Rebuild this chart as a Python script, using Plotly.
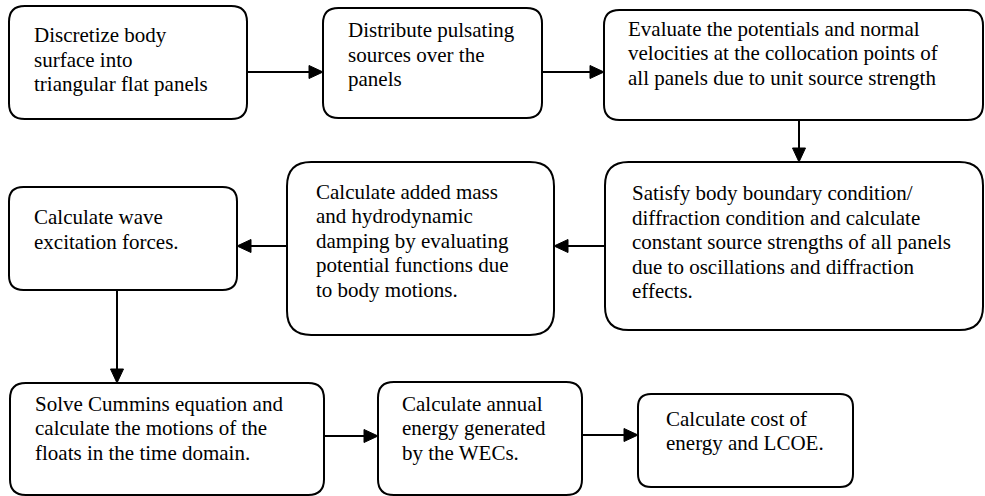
import plotly.graph_objects as go

# ---- content (flowchart steps) ----
step_lines = [
    ["Discretize body", "surface into", "triangular flat panels"],
    ["Distribute pulsating", "sources over the", "panels"],
    ["Evaluate the potentials and normal", "velocities at the collocation points of",
     "all panels due to unit source strength"],
    ["Satisfy body boundary condition/", "diffraction condition and calculate",
     "constant source strengths of all panels", "due to oscillations and diffraction", "effects."],
    ["Calculate added mass", "and hydrodynamic", "damping by evaluating",
     "potential functions due", "to body motions."],
    ["Calculate wave", "excitation forces."],
    ["Solve Cummins equation and", "calculate the motions of the", "floats in the time domain."],
    ["Calculate annual", "energy generated", "by the WECs."],
    ["Calculate cost of", "energy and LCOE."],
]
# flow order: (from step, to step)
flow = [(0, 1), (1, 2), (2, 3), (3, 4), (4, 5), (5, 6), (6, 7), (7, 8)]

# ---- layout geometry (pixels) ----
boxes = [  # x0, y0, x1, y1
    (9, 6, 247, 119),
    (323, 8, 542, 118),
    (604, 10, 983, 120),
    (605, 162, 983, 330),
    (287, 162, 554, 335),
    (9, 187, 237, 290),
    (10, 383, 324, 495),
    (378, 382, 582, 495),
    (638, 394, 853, 487),
]
text_pos = [  # left x, centre of first line
    (35, 35), (349, 30), (629, 28.5), (633, 193), (317, 191.5),
    (35, 217), (36, 403.7), (403, 403.5), (667, 418.5),
]
arrows = [  # x0, y0, x1, y1 (tail -> tip)
    (247, 72, 323, 72),
    (542, 72, 604, 72),
    (799, 120, 799, 162),
    (605, 246, 554, 246),
    (287, 246, 237, 246),
    (117, 290, 117, 383),
    (324, 436, 378, 436),
    (582, 435, 638, 435),
]
LINE_GAP = 24.5
FAMILY = "Liberation Serif"
W, H = 985, 496
HEAD_L, HEAD_W = 14, 13


def rounded(x0, y0, x1, y1, r):
    return (f"M {x0+r},{y0} L {x1-r},{y0} Q {x1},{y0} {x1},{y0+r} "
            f"L {x1},{y1-r} Q {x1},{y1} {x1-r},{y1} L {x0+r},{y1} "
            f"Q {x0},{y1} {x0},{y1-r} L {x0},{y0+r} Q {x0},{y0} {x0+r},{y0} Z")


shapes = []
for (x0, y0, x1, y1) in boxes:
    r = 0.14 * min(x1 - x0, y1 - y0)
    shapes.append(dict(type="path", path=rounded(x0, y0, x1, y1, r),
                       line=dict(color="black", width=2), fillcolor="white",
                       xref="x", yref="y", layer="below"))

for (x0, y0, x1, y1) in arrows:
    dx = (x1 > x0) - (x1 < x0)
    dy = (y1 > y0) - (y1 < y0)
    bx, by = x1 - dx * HEAD_L, y1 - dy * HEAD_L
    shapes.append(dict(type="line", x0=x0, y0=y0, x1=bx, y1=by,
                       line=dict(color="black", width=2), xref="x", yref="y"))
    px, py = -dy * HEAD_W / 2, dx * HEAD_W / 2
    shapes.append(dict(type="path",
                       path=f"M {x1},{y1} L {bx+px},{by+py} L {bx-px},{by-py} Z",
                       fillcolor="black", line=dict(color="black", width=1),
                       xref="x", yref="y"))

fig = go.Figure()
for lines, (tx, ty) in zip(step_lines, text_pos):
    for i, ln in enumerate(lines):
        fig.add_annotation(x=tx, y=ty + i * LINE_GAP, text=ln, showarrow=False,
                           xanchor="left", yanchor="middle", xref="x", yref="y",
                           borderpad=0, borderwidth=0, xshift=-1,
                           font=dict(family=FAMILY, size=21, color="black"))

fig.update_layout(
    width=W, height=H, margin=dict(l=0, r=0, t=0, b=0),
    paper_bgcolor="white", plot_bgcolor="white",
    font=dict(family=FAMILY, color="black"),
    xaxis=dict(range=[0, W], visible=False, fixedrange=True),
    yaxis=dict(range=[H, 0], visible=False, fixedrange=True),
    shapes=shapes, showlegend=False,
)
fig.write_html("out.html", config=dict(displayModeBar=False),
               post_script="document.body.style.margin='0';document.body.style.overflow='hidden';")
